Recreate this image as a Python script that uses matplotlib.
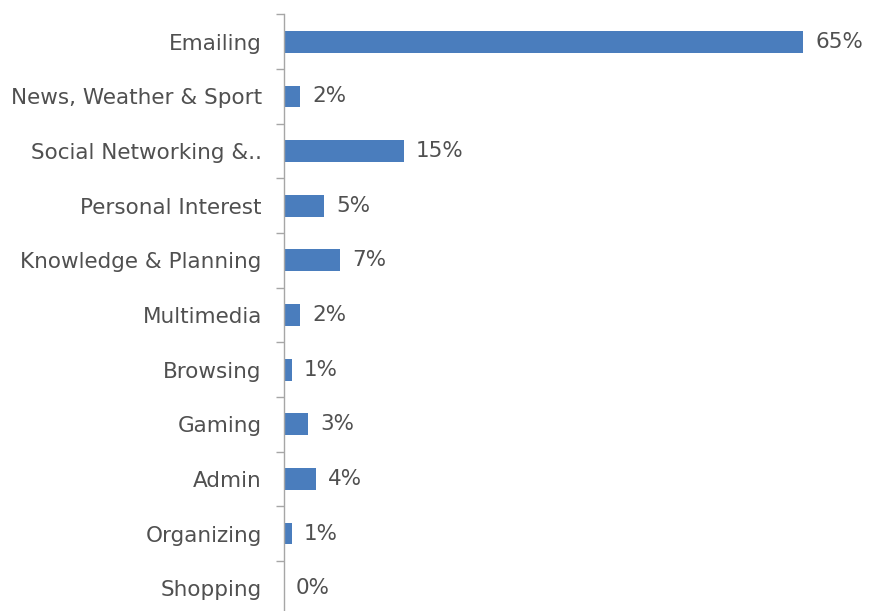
import matplotlib
matplotlib.use("Agg")
import matplotlib.pyplot as plt
import numpy as np

categories = [
    "Emailing",
    "News, Weather & Sport",
    "Social Networking &..",
    "Personal Interest",
    "Knowledge & Planning",
    "Multimedia",
    "Browsing",
    "Gaming",
    "Admin",
    "Organizing",
    "Shopping",
]
shares = [65, 2, 15, 5, 7, 2, 1, 3, 4, 1, 0]

W, H = 869, 611
fig = plt.figure(figsize=(W / 100, H / 100), dpi=100)
fig.patch.set_facecolor("white")

# axes placed in pixel terms: left edge at the category axis line
left, right = 284, 843
top, bottom = 14.5, 615.5
ax = fig.add_axes([left / W, (H - bottom) / H, (right - left) / W, (bottom - top) / H])

y = np.arange(len(categories))
ax.barh(y, shares, height=0.40, color="#4a7dbd", zorder=2)

ax.set_xlim(0, 70)
ax.set_ylim(len(categories) - 0.5, -0.5)

text_color = "#505050"
fs = 15.5
for yi, v in zip(y, shares):
    ax.annotate(f"{v}%", xy=(v, yi), xytext=(8.6, 0), textcoords="offset points",
                va="center", ha="left", fontsize=fs, color=text_color)

ax.set_yticks(y)
ax.set_yticklabels(categories, fontsize=fs, color=text_color)
ax.tick_params(axis="y", which="major", length=0, pad=16)
ax.set_yticks(np.arange(-0.5, len(categories), 1), minor=True)
ax.tick_params(axis="y", which="minor", length=6, width=1, color="#a6a6a6", direction="out")

ax.set_xticks([])
for s in ["top", "right", "bottom"]:
    ax.spines[s].set_visible(False)
ax.spines["left"].set_color("#a6a6a6")
ax.spines["left"].set_linewidth(1)
ax.set_facecolor("white")

fig.savefig("out.png", dpi=100, facecolor="white")
